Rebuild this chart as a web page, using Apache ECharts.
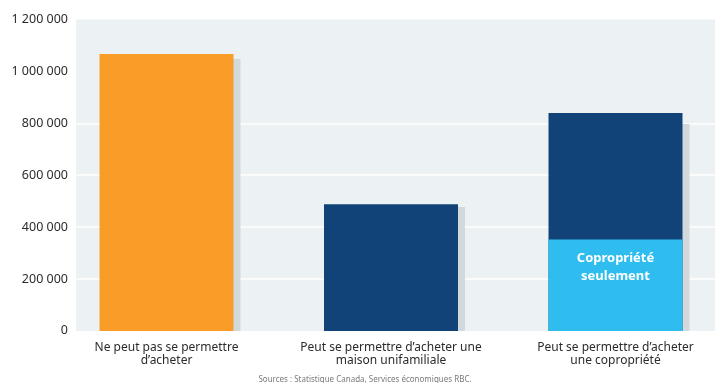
<!DOCTYPE html>
<html>
<head>
<meta charset="utf-8">
<script src="https://cdn.jsdelivr.net/npm/echarts@6/dist/echarts.min.js"></script>
<style>
  html, body { margin: 0; padding: 0; background: #ffffff; }
  #chart { width: 715px; height: 383px; }
</style>
</head>
<body>
<div id="chart"></div>
<script>
// Households by ability to buy a home
const categories = [
  "Ne peut pas se permettre\nd’acheter",
  "Peut se permettre d’acheter une\nmaison unifamiliale",
  "Peut se permettre d’acheter\nune copropriété"
];
const cannotAfford = [1067000, null, null];
const singleFamily = [null, 488000, 488000];
const condoOnly = [null, null, 352000];
const shadowTotals = [1048000, 477000, 797000];
const yTicks = [0, 200000, 400000, 600000, 800000, 1000000, 1200000];
const condoLabel = "Copropriété\nseulement";
const sourceNote = "Sources : Statistique Canada, Services économiques RBC.";

const FONT = "'Noto Sans', sans-serif";
const TEXT = "#2b2b2b";
const BAR_W = 134;

const fmt = v => String(v).replace(/\B(?=(\d{3})+(?!\d))/g, " ");
const pts = arr => arr.map((v, i) => [i, v]);

// The dark segment runs from zero to the full height of the bar; the
// light "condo only" part is drawn over its lower portion.
const affordTotal = singleFamily.map((v, i) =>
  v == null ? null : v + (condoOnly[i] || 0));

// Gridlines are only drawn at the middle ticks
const splitColors = yTicks.map(v => (v > 0 && v < 1000000) ? "#ffffff" : "rgba(0,0,0,0)");

// x positions: category i sits at value i
const X_MIN = -0.4031, X_MAX = 2.4432;
const SHADOW_SHIFT = 7 / 224.5; // drop shadow sits a few pixels to the right

const chart = echarts.init(document.getElementById("chart"), null, { renderer: "canvas" });

chart.setOption({
  animation: false,
  grid: {
    left: 76, right: 0, top: 19.5, bottom: 52.1,
    show: true, backgroundColor: "#ECF1F4", borderWidth: 0
  },
  xAxis: [
    {
      type: "value",
      min: X_MIN,
      max: X_MAX,
      axisLine: { show: false },
      axisTick: { show: false },
      splitLine: { show: false },
      axisLabel: {
        customValues: categories.map((_, i) => i),
        formatter: v => categories[Math.round(v)] || "",
        fontFamily: FONT,
        fontSize: 12,
        color: TEXT,
        lineHeight: 13,
        margin: 10,
        align: "center"
      }
    },
    {
      type: "value",
      min: X_MIN - SHADOW_SHIFT,
      max: X_MAX - SHADOW_SHIFT,
      show: false
    }
  ],
  yAxis: {
    type: "value",
    min: yTicks[0],
    max: yTicks[yTicks.length - 1],
    interval: yTicks[1] - yTicks[0],
    axisLine: { show: false },
    axisTick: { show: false },
    splitLine: { show: true, lineStyle: { color: splitColors, width: 1.5 } },
    axisLabel: {
      formatter: fmt,
      fontFamily: FONT,
      fontSize: 12.5,
      color: TEXT,
      margin: 8,
      padding: [0, 0, 4, 0]
    }
  },
  series: [
    {
      name: "Ombre",
      type: "bar",
      xAxisIndex: 1,
      barWidth: BAR_W,
      z: 1,
      itemStyle: { color: "#D2D9DD" },
      data: pts(shadowTotals)
    },
    {
      name: "Ne peut pas acheter",
      type: "bar",
      xAxisIndex: 0,
      barWidth: BAR_W,
      barGap: "-100%",
      z: 3,
      itemStyle: { color: "#F99D28" },
      data: pts(cannotAfford)
    },
    {
      name: "Peut acheter",
      type: "bar",
      xAxisIndex: 0,
      barWidth: BAR_W,
      barGap: "-100%",
      z: 3,
      itemStyle: { color: "#124378" },
      data: pts(affordTotal)
    },
    {
      name: "Copropriété seulement",
      type: "bar",
      xAxisIndex: 0,
      barWidth: BAR_W,
      barGap: "-100%",
      z: 4,
      itemStyle: { color: "#2EBDEE" },
      label: {
        show: true,
        position: "insideTop",
        distance: 10,
        formatter: condoLabel,
        color: "#ffffff",
        fontFamily: FONT,
        fontWeight: "bold",
        fontSize: 13,
        lineHeight: 18
      },
      data: pts(condoOnly)
    }
  ],
  graphic: [{
    type: "text",
    x: 365,
    y: 380,
    style: {
      text: sourceNote,
      fill: "#7a7a7a",
      font: "8px " + FONT,
      textAlign: "center",
      textVerticalAlign: "middle"
    }
  }]
});
</script>
</body>
</html>
